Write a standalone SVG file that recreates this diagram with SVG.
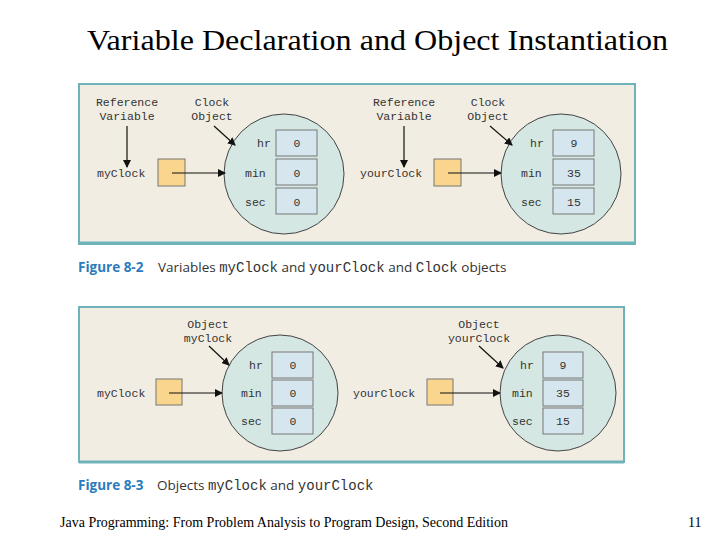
<svg xmlns="http://www.w3.org/2000/svg" width="720" height="540" viewBox="0 0 720 540">
<style>
.panel{fill:#f2ede2;stroke:#6fb3ba;stroke-width:2}
.circ{fill:#d4e7e2;stroke:#444;stroke-width:1}
.box{fill:#d6e6ee;stroke:#777;stroke-width:1}
.ref{fill:#f9d58e;stroke:#777;stroke-width:1}
.m{font-family:"Liberation Mono",monospace;font-size:11.5px;fill:#333}
.cap{font-family:"Open Sans",sans-serif;font-size:13.5px;fill:#333}
.fig{font-family:"Open Sans",sans-serif;font-size:13.5px;font-weight:bold;fill:#2b7bbd}
.cm{font-family:"Liberation Mono",monospace;font-size:14px;fill:#333}
.t{font-family:"Liberation Serif",serif;fill:#000}
.ln{stroke:#111;stroke-width:1.2;fill:none}
</style>
<defs><marker id="ah" markerWidth="8" markerHeight="8" refX="7" refY="4" orient="auto" markerUnits="userSpaceOnUse"><path d="M0,0 L8,4 L0,8 z" fill="#111"/></marker></defs>
<text class="t" x="87" y="50" font-size="29" textLength="581" lengthAdjust="spacingAndGlyphs">Variable Declaration and Object Instantiation</text>
<g id="panel1">
<rect class="panel" x="79" y="84" width="556" height="160"/>
<line x1="79" y1="243" x2="635" y2="243" stroke="#6fb3ba" stroke-width="3"/>
</g>
<g id="panel2">
<rect class="panel" x="79" y="307" width="545" height="155"/>
<line x1="79" y1="462" x2="624" y2="462" stroke="#6fb3ba" stroke-width="3"/>
</g>
<g id="p1-left" class="m">
<text x="127" y="106" text-anchor="middle">Reference</text><text x="127" y="120" text-anchor="middle">Variable</text>
<text x="212" y="106" text-anchor="middle">Clock</text><text x="212" y="120" text-anchor="middle">Object</text>
<text x="97" y="177">myClock</text>
<rect class="ref" x="158" y="159" width="27" height="27"/>
<circle class="circ" cx="284" cy="174" r="60"/>
<rect class="box" x="276" y="130" width="41" height="26"/><rect class="box" x="276" y="159" width="41" height="26"/><rect class="box" x="276" y="188" width="41" height="26"/>
<text x="257" y="147">hr</text><text x="245" y="177">min</text><text x="245" y="206">sec</text>
<text x="297" y="147" text-anchor="middle">0</text><text x="297" y="177" text-anchor="middle">0</text><text x="297" y="206" text-anchor="middle">0</text>
</g>
<g id="p1-right" class="m">
<text x="404" y="106" text-anchor="middle">Reference</text><text x="404" y="120" text-anchor="middle">Variable</text>
<text x="488" y="106" text-anchor="middle">Clock</text><text x="488" y="120" text-anchor="middle">Object</text>
<text x="360" y="177">yourClock</text>
<rect class="ref" x="434" y="159" width="27" height="27"/>
<circle class="circ" cx="561" cy="174" r="60"/>
<rect class="box" x="553" y="130" width="41" height="26"/><rect class="box" x="553" y="159" width="41" height="26"/><rect class="box" x="553" y="188" width="41" height="26"/>
<text x="530" y="147">hr</text><text x="521" y="177">min</text><text x="521" y="206">sec</text>
<text x="574" y="147" text-anchor="middle">9</text><text x="574" y="177" text-anchor="middle">35</text><text x="574" y="206" text-anchor="middle">15</text>
</g>
<text x="78" y="272"><tspan class="fig">Figure 8-2</tspan><tspan class="cap" x="158">Variables </tspan><tspan class="cm">myClock</tspan><tspan class="cap"> and </tspan><tspan class="cm">yourClock</tspan><tspan class="cap"> and </tspan><tspan class="cm">Clock</tspan><tspan class="cap"> objects</tspan></text>
<g id="p2-left" class="m">
<text x="208" y="328" text-anchor="middle">Object</text><text x="208" y="342" text-anchor="middle">myClock</text>
<text x="97" y="397">myClock</text>
<rect class="ref" x="156" y="379" width="26" height="26"/>
<circle class="circ" cx="280" cy="393" r="58"/>
<rect class="box" x="272" y="352" width="41" height="26"/><rect class="box" x="272" y="380" width="41" height="26"/><rect class="box" x="272" y="408" width="41" height="26"/>
<text x="249" y="369">hr</text><text x="241" y="397">min</text><text x="241" y="425">sec</text>
<text x="293" y="369" text-anchor="middle">0</text><text x="293" y="397" text-anchor="middle">0</text><text x="293" y="425" text-anchor="middle">0</text>
</g>
<g id="p2-right" class="m">
<text x="479" y="328" text-anchor="middle">Object</text><text x="479" y="342" text-anchor="middle">yourClock</text>
<text x="353" y="397">yourClock</text>
<rect class="ref" x="427" y="379" width="26" height="26"/>
<circle class="circ" cx="558" cy="393" r="58"/>
<rect class="box" x="543" y="352" width="40" height="26"/><rect class="box" x="543" y="380" width="40" height="26"/><rect class="box" x="543" y="408" width="40" height="26"/>
<text x="520" y="369">hr</text><text x="512" y="397">min</text><text x="512" y="425">sec</text>
<text x="563" y="369" text-anchor="middle">9</text><text x="563" y="397" text-anchor="middle">35</text><text x="563" y="425" text-anchor="middle">15</text>
</g>
<text x="78" y="490"><tspan class="fig">Figure 8-3</tspan><tspan class="cap" x="157">Objects </tspan><tspan class="cm">myClock</tspan><tspan class="cap"> and </tspan><tspan class="cm">yourClock</tspan></text>
<g id="connectors">
<line class="ln" x1="127" y1="126" x2="127" y2="167" stroke-width="2" marker-end="url(#ah)"/>
<line class="ln" x1="214" y1="126" x2="235" y2="145" marker-end="url(#ah)"/>
<line class="ln" x1="172" y1="173" x2="225" y2="173" marker-end="url(#ah)"/>
<line class="ln" x1="404" y1="126" x2="404" y2="167" stroke-width="2" marker-end="url(#ah)"/>
<line class="ln" x1="490" y1="126" x2="512" y2="145" marker-end="url(#ah)"/>
<line class="ln" x1="448" y1="173" x2="501" y2="173" marker-end="url(#ah)"/>
<line class="ln" x1="209" y1="346" x2="229" y2="365" marker-end="url(#ah)"/>
<line class="ln" x1="169" y1="393" x2="222" y2="393" marker-end="url(#ah)"/>
<line class="ln" x1="479" y1="346" x2="503" y2="368" marker-end="url(#ah)"/>
<line class="ln" x1="440" y1="393" x2="500" y2="393" marker-end="url(#ah)"/>
</g>
<text class="t" x="60" y="527" font-size="14">Java Programming: From Problem Analysis to Program Design, Second Edition</text>
<text class="t" x="688" y="527" font-size="14">11</text>
</svg>
